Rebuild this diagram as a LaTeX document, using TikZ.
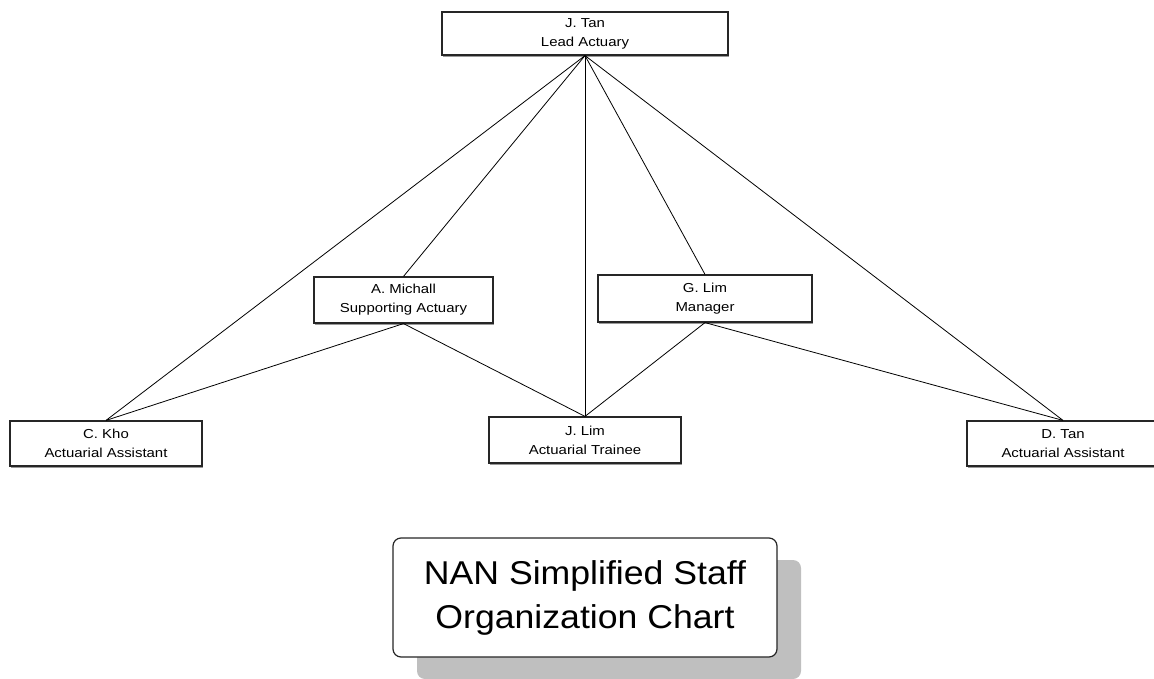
\documentclass[tikz,border=0pt]{standalone}
\usepackage{fontspec}
\usetikzlibrary{shadows}
\newfontfamily\nodefnt[FakeStretch=1.15]{Liberation Sans}
\newfontfamily\titlefnt[FakeStretch=1.08]{Liberation Sans}
\begin{document}
\begin{tikzpicture}[x=1pt,y=-1pt,
  staff/.style={draw=black!85, line width=1.2pt, fill=white, rectangle, align=center,
    inner sep=0pt, font=\nodefnt\fontsize{13}{19}\selectfont,
    drop shadow={shadow xshift=1pt, shadow yshift=-2pt, fill=black!40, opacity=1}},
  link/.style={draw=black, line width=0.8pt},
  titlebox/.style={draw=black!85, line width=1.2pt, fill=white, rounded corners=8pt,
    align=center, inner sep=0pt, minimum width=384pt, minimum height=119pt,
    font=\titlefnt\fontsize{33}{44}\selectfont,
    drop shadow={shadow xshift=24pt, shadow yshift=-22pt, fill=black!25, opacity=1}}]
\useasboundingbox (0,0) rectangle (1154,679);

\node[staff, minimum width=286pt, minimum height=43pt] (top) at (585,33.5) {J. Tan\\Lead Actuary};
\node[staff, minimum width=179pt, minimum height=46pt] (mich) at (403.5,300) {A. Michall\\Supporting Actuary};
\node[staff, minimum width=214pt, minimum height=47pt] (glim) at (705,298.5) {G. Lim\\Manager};
\node[staff, minimum width=192pt, minimum height=45pt] (ckho) at (106,443.5) {C. Kho\\Actuarial Assistant};
\node[staff, minimum width=192pt, minimum height=46pt] (jlim) at (585,440) {J. Lim\\Actuarial Trainee};
\node[staff, minimum width=192pt, minimum height=45pt] (dtan) at (1063,443.5) {D. Tan\\Actuarial Assistant};

\draw[link] (top.south) -- (ckho.north);
\draw[link] (top.south) -- (mich.north);
\draw[link] (top.south) -- (jlim.north);
\draw[link] (top.south) -- (glim.north);
\draw[link] (top.south) -- (dtan.north);
\draw[link] (mich.south) -- (ckho.north);
\draw[link] (mich.south) -- (jlim.north);
\draw[link] (glim.south) -- (jlim.north);
\draw[link] (glim.south) -- (dtan.north);

\node[titlebox] (title) at (585,597.5) {NAN Simplified Staff\\Organization Chart};
\end{tikzpicture}
\end{document}
